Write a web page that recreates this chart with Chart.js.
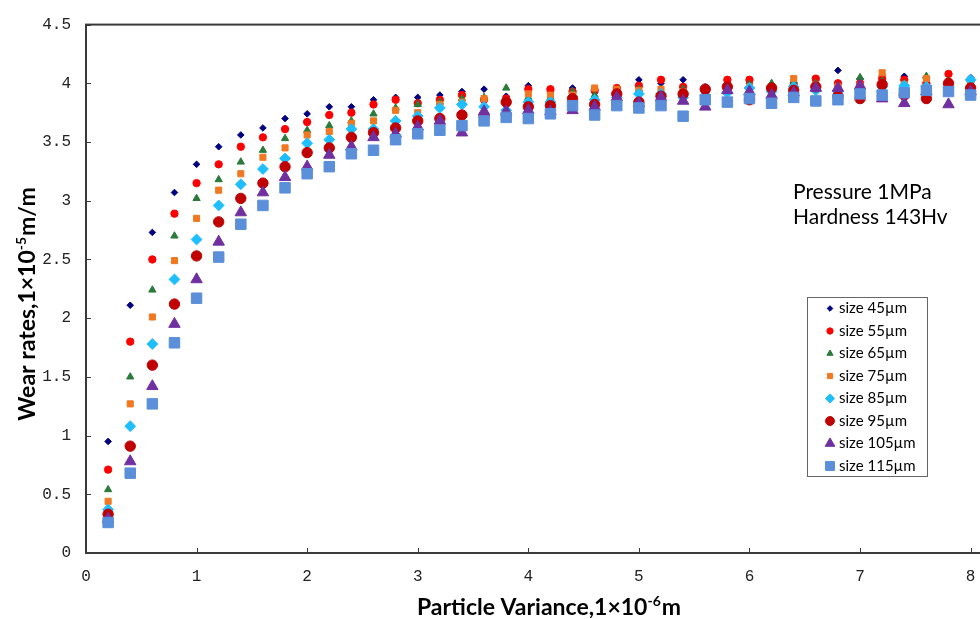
<!DOCTYPE html>
<html>
<head>
<meta charset="utf-8">
<script src="https://cdn.jsdelivr.net/npm/chart.js@4.4.1/dist/chart.umd.min.js"></script>
<style>
  html, body { margin: 0; padding: 0; background: #fff; overflow: hidden; }
  #wrap { width: 1100px; height: 619px; }
</style>
</head>
<body>
<div id="wrap"><canvas id="wearChart" width="1100" height="619"></canvas></div>
<script>
// particle variance (x), 1e-6 m
const xValues = [0.2, 0.4, 0.6, 0.8, 1.0, 1.2, 1.4, 1.6, 1.8, 2.0,
  2.2, 2.4, 2.6, 2.8, 3.0, 3.2, 3.4, 3.6, 3.8, 4.0,
  4.2, 4.4, 4.6, 4.8, 5.0, 5.2, 5.4, 5.6, 5.8, 6.0,
  6.2, 6.4, 6.6, 6.8, 7.0, 7.2, 7.4, 7.6, 7.8, 8.0];

const sizeLabels = ["size 45µm", "size 55µm", "size 65µm", "size 75µm",
  "size 85µm", "size 95µm", "size 105µm", "size 115µm"];

// wear rates, 1e-5 m/m
const wear45 = [0.95, 2.11, 2.73, 3.07, 3.31, 3.46, 3.56, 3.62, 3.70, 3.74,
  3.80, 3.80, 3.86, 3.88, 3.88, 3.90, 3.93, 3.95, 3.89, 3.98,
  3.93, 3.96, 3.92, 3.94, 4.03, 4.00, 4.03, 3.97, 4.00, 4.00,
  3.98, 4.01, 4.02, 4.11, 4.04, 4.07, 4.06, 4.05, 4.03, 4.05];
const wear55 = [0.71, 1.80, 2.50, 2.89, 3.15, 3.31, 3.46, 3.54, 3.61, 3.67,
  3.73, 3.75, 3.82, 3.86, 3.83, 3.86, 3.90, 3.86, 3.87, 3.95,
  3.95, 3.93, 3.94, 3.96, 3.98, 4.03, 3.97, 3.93, 4.03, 4.03,
  3.95, 3.99, 4.04, 4.00, 4.00, 4.04, 4.03, 4.00, 4.08, 4.02];
const wear65 = [0.54, 1.50, 2.24, 2.70, 3.02, 3.18, 3.33, 3.43, 3.53, 3.60,
  3.64, 3.68, 3.74, 3.79, 3.82, 3.84, 3.87, 3.88, 3.96, 3.88,
  3.88, 3.93, 3.90, 3.92, 3.95, 3.93, 3.95, 3.94, 3.98, 3.99,
  4.00, 4.02, 4.00, 3.98, 4.05, 4.02, 4.00, 4.06, 4.02, 4.03];
const wear75 = [0.44, 1.27, 2.01, 2.49, 2.85, 3.09, 3.23, 3.37, 3.45, 3.56,
  3.59, 3.66, 3.68, 3.77, 3.75, 3.82, 3.84, 3.87, 3.85, 3.91,
  3.90, 3.90, 3.96, 3.95, 3.94, 3.95, 3.93, 3.92, 3.96, 3.97,
  3.97, 4.04, 3.99, 3.97, 3.98, 4.09, 3.99, 4.04, 4.01, 4.00];
const wear85 = [0.37, 1.08, 1.78, 2.33, 2.67, 2.96, 3.14, 3.27, 3.36, 3.49,
  3.52, 3.61, 3.61, 3.68, 3.72, 3.79, 3.82, 3.80, 3.77, 3.84,
  3.84, 3.85, 3.86, 3.88, 3.91, 3.91, 3.88, 3.90, 3.92, 3.96,
  3.93, 3.97, 3.94, 3.93, 3.95, 3.97, 3.98, 3.97, 3.97, 4.03];
const wear95 = [0.33, 0.91, 1.60, 2.12, 2.53, 2.82, 3.02, 3.15, 3.29, 3.41,
  3.45, 3.54, 3.58, 3.62, 3.68, 3.70, 3.73, 3.72, 3.84, 3.80,
  3.81, 3.87, 3.82, 3.91, 3.84, 3.89, 3.91, 3.95, 3.97, 3.86,
  3.96, 3.94, 3.97, 3.89, 3.87, 3.99, 3.90, 3.87, 4.00, 3.96];
const wear105 = [0.29, 0.78, 1.42, 1.95, 2.33, 2.65, 2.90, 3.07, 3.20, 3.29,
  3.39, 3.46, 3.54, 3.57, 3.63, 3.68, 3.58, 3.76, 3.76, 3.77,
  3.76, 3.77, 3.80, 3.88, 3.83, 3.88, 3.85, 3.80, 3.94, 3.93,
  3.90, 3.92, 3.96, 3.96, 3.98, 3.87, 3.83, 3.93, 3.82, 3.93];
const wear115 = [0.26, 0.68, 1.27, 1.79, 2.17, 2.52, 2.80, 2.96, 3.11, 3.23,
  3.29, 3.40, 3.43, 3.52, 3.57, 3.60, 3.64, 3.68, 3.71, 3.70,
  3.74, 3.81, 3.73, 3.81, 3.79, 3.81, 3.72, 3.86, 3.84, 3.87,
  3.83, 3.88, 3.85, 3.86, 3.91, 3.90, 3.92, 3.94, 3.93, 3.90];

const allSeries = [wear45, wear55, wear65, wear75, wear85, wear95, wear105, wear115];

// marker styles
const colors = ["#000080", "#ff0000", "#2a7a3a", "#f07820", "#1ebeff", "#c00000", "#7030a0", "#5b8fd9"];
const shapes = ["rectRot", "circle", "triangle", "rect", "rectRot", "circle", "triangle", "rect"];
const radii = [3.3, 3.7, 4.2, 4.3, 5.4, 5.2, 6.6, 7.4];

const xTitle = ["Particle Variance,1×10", "-6", "m"];
const yTitle = ["Wear rates,1×10", "-5", "m/m"];
const noteLines = ["Pressure 1MPa", "Hardness 143Hv"];

const titleFont = "bold 23px Lato, 'Open Sans', sans-serif";
const supFont = "bold 14px Lato, 'Open Sans', sans-serif";

function drawSupText(ctx, parts, cx, baseY) {
  ctx.font = titleFont;
  const w0 = ctx.measureText(parts[0]).width;
  const w2 = ctx.measureText(parts[2]).width;
  ctx.font = supFont;
  const w1 = ctx.measureText(parts[1]).width + 1;
  let x = cx - (w0 + w1 + w2) / 2;
  ctx.textAlign = "left";
  ctx.textBaseline = "alphabetic";
  ctx.font = titleFont;
  ctx.fillText(parts[0], x, baseY);
  x += w0;
  ctx.font = supFont;
  ctx.fillText(parts[1], x, baseY - 9);
  x += w1;
  ctx.font = titleFont;
  ctx.fillText(parts[2], x, baseY);
}

function drawMarker(ctx, i, x, y, r) {
  ctx.fillStyle = colors[i];
  ctx.strokeStyle = colors[i];
  ctx.lineWidth = 1;
  if (Chart.helpers && Chart.helpers.drawPoint) {
    Chart.helpers.drawPoint(ctx, { pointStyle: shapes[i], radius: r, rotation: 0, borderWidth: 1 }, x, y);
    return;
  }
  ctx.beginPath();
  ctx.arc(x, y, r, 0, Math.PI * 2);
  ctx.fill();
}

const extras = {
  id: "extras",
  beforeDatasetsDraw(chart) {
    const { ctx, chartArea: a, scales } = chart;
    ctx.save();
    ctx.strokeStyle = "#3a3a3a";
    ctx.lineWidth = 2;
    ctx.strokeRect(a.left, a.top, a.right - a.left, a.bottom - a.top);
    ctx.lineWidth = 1;
    ctx.beginPath();
    scales.x.ticks.forEach((t) => {
      const px = Math.round(scales.x.getPixelForValue(t.value)) + 0.5;
      ctx.moveTo(px, a.bottom);
      ctx.lineTo(px, a.bottom - 5);
    });
    scales.y.ticks.forEach((t) => {
      const py = Math.round(scales.y.getPixelForValue(t.value)) + 0.5;
      ctx.moveTo(a.left, py);
      ctx.lineTo(a.left + 5, py);
    });
    ctx.stroke();
    ctx.restore();
  },
  afterDraw(chart) {
    const ctx = chart.ctx;
    ctx.save();
    ctx.fillStyle = "#000";
    drawSupText(ctx, xTitle, 549, 615);

    ctx.save();
    ctx.translate(35, 304);
    ctx.rotate(-Math.PI / 2);
    drawSupText(ctx, yTitle, 0, 0);
    ctx.restore();

    ctx.font = "21px Lato, 'Open Sans', sans-serif";
    ctx.textAlign = "left";
    ctx.textBaseline = "alphabetic";
    ctx.fillText(noteLines[0], 793, 199);
    ctx.fillText(noteLines[1], 793, 224);

    // legend box
    ctx.fillStyle = "#fff";
    ctx.fillRect(807.5, 297.5, 120, 179);
    ctx.strokeStyle = "#666";
    ctx.lineWidth = 1;
    ctx.strokeRect(807.5, 297.5, 120, 179);
    chart.data.datasets.forEach((ds, i) => {
      const y = 308.5 + i * 22.5;
      drawMarker(ctx, i, 830, y, radii[i] * 0.85);
      ctx.fillStyle = "#000";
      ctx.font = "15px Lato, 'Open Sans', sans-serif";
      ctx.textBaseline = "middle";
      ctx.textAlign = "left";
      ctx.fillText(ds.label, 839, y);
    });
    ctx.restore();
  }
};

const datasets = allSeries.map((vals, i) => ({
  label: sizeLabels[i],
  data: xValues.map((x, k) => ({ x: x, y: vals[k] })),
  pointStyle: shapes[i],
  pointRadius: radii[i],
  backgroundColor: colors[i],
  borderColor: colors[i],
  borderWidth: 1,
  showLine: false,
  order: allSeries.length - i
}));

const tickFont = { family: "'Liberation Mono', monospace", size: 16 };

new Chart(document.getElementById("wearChart").getContext("2d"), {
  type: "scatter",
  data: { datasets },
  plugins: [extras],
  options: {
    responsive: false,
    animation: false,
    layout: { padding: { left: 0, top: 18, right: 14, bottom: 0 } },
    plugins: { legend: { display: false }, tooltip: { enabled: false } },
    scales: {
      x: {
        type: "linear",
        min: 0,
        max: 9,
        ticks: { stepSize: 1, font: tickFont, color: "#222", padding: 14 },
        grid: { display: false, drawTicks: false },
        border: { display: false },
        afterFit: (s) => { s.height = 66; }
      },
      y: {
        min: 0,
        max: 4.5,
        ticks: {
          stepSize: 0.5, font: tickFont, color: "#222", padding: 15,
          callback: (v) => String(Math.round(v * 10) / 10)
        },
        grid: { display: false, drawTicks: false },
        border: { display: false },
        afterFit: (s) => { s.width = 86; }
      }
    }
  }
});
</script>
</body>
</html>
